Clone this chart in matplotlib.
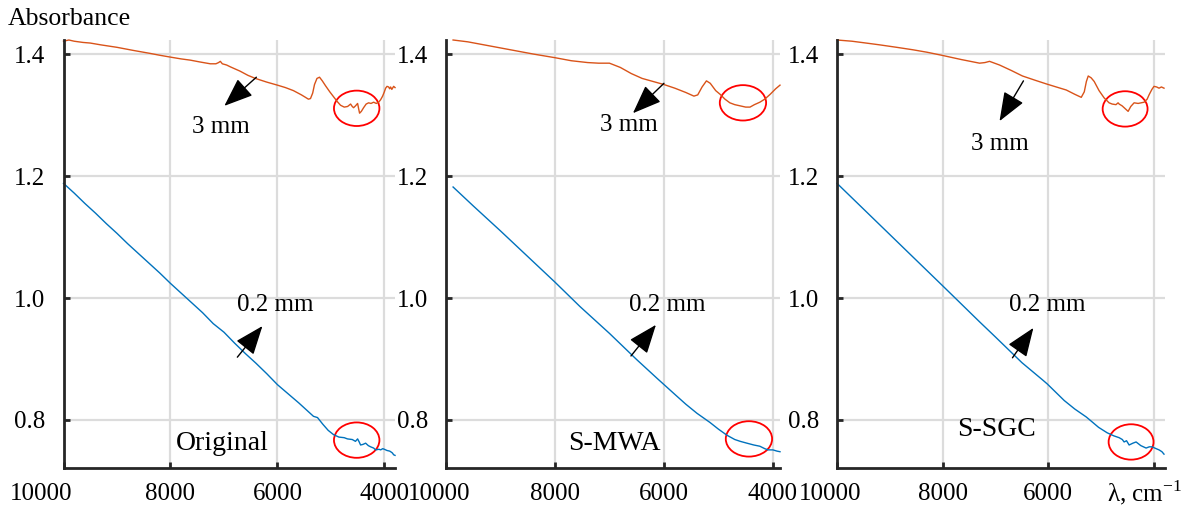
import matplotlib
matplotlib.use("Agg")
import matplotlib.pyplot as plt
from matplotlib.patches import Ellipse
import matplotlib.transforms as mtransforms

plt.rcParams["font.family"] = ["Liberation Serif", "DejaVu Serif"]
plt.rcParams["mathtext.fontset"] = "custom"
plt.rcParams["mathtext.rm"] = "Liberation Serif"

# ---- data ----
# panel 1: Original
orig_top_x = [10000, 9900, 9800, 9635, 9500, 9300, 9000, 8700, 8379, 8200, 8004, 7800, 7630, 7450,
              7255, 7150, 7100, 7067, 7030, 6950, 6880, 6700, 6550, 6411, 6200, 6000, 5850, 5700,
              5550, 5475, 5420, 5381, 5340, 5306, 5260, 5212, 5160, 5100, 5020, 4950, 4880, 4819,
              4750, 4687, 4631, 4600, 4575, 4540, 4500, 4480, 4463, 4430, 4388, 4340, 4294, 4250,
              4200, 4150, 4107, 4070, 4032, 4000, 3976, 3950, 3920, 3900, 3883, 3860, 3826, 3800]
orig_top_y = [1.421, 1.423, 1.421, 1.419, 1.418, 1.415, 1.411, 1.406, 1.401, 1.398, 1.395, 1.392,
              1.390, 1.387, 1.384, 1.384, 1.386, 1.388, 1.384, 1.382, 1.379, 1.372, 1.365, 1.360,
              1.354, 1.349, 1.345, 1.340, 1.333, 1.329, 1.326, 1.327, 1.336, 1.350, 1.360, 1.362,
              1.356, 1.348, 1.338, 1.330, 1.322, 1.316, 1.313, 1.314, 1.318, 1.314, 1.312, 1.315,
              1.319, 1.310, 1.303, 1.306, 1.312, 1.318, 1.320, 1.319, 1.321, 1.319, 1.321, 1.325,
              1.331, 1.338, 1.344, 1.347, 1.346, 1.343, 1.346, 1.342, 1.347, 1.345]
orig_bot_x = [10000, 9800, 9600, 9400, 9200, 9000, 8800, 8600, 8400, 8200, 8000, 7800, 7600, 7400,
              7200, 7000, 6800, 6600, 6400, 6200, 6000, 5800, 5600, 5450, 5325, 5250, 5150, 5050,
              4950, 4850, 4750, 4690, 4600, 4540, 4500, 4470, 4444, 4400, 4350, 4300, 4256, 4200,
              4163, 4100, 4069, 4030, 4000, 3950, 3900, 3882, 3850, 3826, 3800]
orig_bot_y = [1.188, 1.172, 1.155, 1.139, 1.122, 1.106, 1.089, 1.073, 1.057, 1.041, 1.024, 1.008,
              0.992, 0.976, 0.958, 0.944, 0.926, 0.909, 0.893, 0.876, 0.858, 0.843, 0.828, 0.816,
              0.806, 0.804, 0.793, 0.783, 0.776, 0.772, 0.771, 0.769, 0.768, 0.765, 0.769, 0.764,
              0.759, 0.760, 0.762, 0.758, 0.756, 0.754, 0.751, 0.752, 0.751, 0.753, 0.752, 0.750,
              0.749, 0.748, 0.746, 0.743, 0.742]

# panel 2: S-MWA
mwa_top_x = [9870, 9600, 9300, 9000, 8700, 8400, 8000, 7700, 7400, 7200, 7000, 6800, 6600, 6400,
             6200, 6000, 5800, 5600, 5450, 5380, 5300, 5220, 5150, 5050, 4970, 4880, 4790, 4700,
             4600, 4500, 4420, 4340, 4240, 4150, 4050, 3950, 3870]
mwa_top_y = [1.423, 1.420, 1.415, 1.410, 1.405, 1.400, 1.394, 1.389, 1.386, 1.385, 1.385, 1.378,
             1.368, 1.360, 1.355, 1.350, 1.344, 1.337, 1.331, 1.333, 1.346, 1.356, 1.352, 1.340,
             1.334, 1.326, 1.320, 1.317, 1.315, 1.313, 1.313, 1.317, 1.321, 1.326, 1.334, 1.343,
             1.349]
mwa_bot_x = [9870, 9500, 9000, 8500, 8000, 7541, 7000, 6500, 6110, 5800, 5600, 5394, 5156, 5000,
             4843, 4700, 4600, 4477, 4350, 4240, 4150, 4090, 4000, 3926, 3870]
mwa_bot_y = [1.182, 1.151, 1.110, 1.068, 1.026, 0.986, 0.942, 0.899, 0.867, 0.842, 0.826, 0.811,
             0.796, 0.785, 0.775, 0.768, 0.765, 0.762, 0.759, 0.757, 0.753, 0.751, 0.751, 0.749,
             0.748]

# panel 3: S-SGC
sgc_top_x = [10000, 9717, 9450, 9189, 8870, 8566, 8300, 8019, 7650, 7302, 7200, 7113, 7050, 6924,
             6700, 6490, 6250, 6038, 5850, 5660, 5500, 5377, 5320, 5280, 5245, 5190, 5132, 5040,
             4943, 4850, 4792, 4720, 4680, 4660, 4603, 4540, 4490, 4440, 4377, 4300, 4188, 4130,
             4094, 4040, 4000, 3950, 3905, 3860, 3811]
sgc_top_y = [1.423, 1.421, 1.418, 1.415, 1.411, 1.407, 1.403, 1.398, 1.391, 1.385, 1.386, 1.388,
             1.386, 1.382, 1.373, 1.364, 1.357, 1.351, 1.346, 1.341, 1.334, 1.329, 1.338, 1.355,
             1.364, 1.361, 1.355, 1.340, 1.328, 1.320, 1.318, 1.317, 1.320, 1.318, 1.315, 1.310,
             1.306, 1.314, 1.320, 1.319, 1.321, 1.326, 1.333, 1.342, 1.347, 1.346, 1.344, 1.346,
             1.344]
sgc_bot_x = [10000, 9500, 9000, 8500, 8000, 7302, 7000, 6500, 6113, 6019, 5700, 5500, 5283, 5200,
             5050, 4886, 4760, 4660, 4600, 4566, 4520, 4471, 4400, 4339, 4250, 4150, 4090, 4038,
             3960, 3905, 3850, 3811]
sgc_bot_y = [1.188, 1.146, 1.104, 1.062, 1.020, 0.961, 0.936, 0.894, 0.866, 0.859, 0.832, 0.818,
             0.805, 0.799, 0.788, 0.779, 0.774, 0.771, 0.768, 0.764, 0.766, 0.759, 0.762, 0.764,
             0.758, 0.754, 0.756, 0.756, 0.753, 0.751, 0.748, 0.744]

names = ["Original", "S-MWA", "S-SGC"]
name_pos = [(7030, 0.762), (6917, 0.762), (6981, 0.784)]
xright = [3810, 3870, 3792]
# arrow tail, tip, text for "3 mm" and "0.2 mm"
arr3 = [((6393, 1.362), (6992, 1.315), (7048, 1.280)),
        ((6000, 1.352), (6569, 1.303), (6642, 1.284)),
        ((6471, 1.356), (6924, 1.290), (6924, 1.252))]
arr02 = [((6749, 0.903), (6280, 0.954), (6037, 0.989)),
         ((6605, 0.905), (6147, 0.956), (5945, 0.989)),
         ((6679, 0.902), (6283, 0.951), (6019, 0.989))]
circ_top = [(4517, 1.311), (4550, 1.320), (4547, 1.310)]
circ_bot = [(4517, 0.767), (4440, 0.769), (4434, 0.764)]
first_shift = [-0.22, -0.07, -0.07]

tops = [(orig_top_x, orig_top_y), (mwa_top_x, mwa_top_y), (sgc_top_x, sgc_top_y)]
bots = [(orig_bot_x, orig_bot_y), (mwa_bot_x, mwa_bot_y), (sgc_bot_x, sgc_bot_y)]

W, H = 1190, 511
fig = plt.figure(figsize=(W / 100, H / 100), dpi=100)

lefts = [63.5, 446, 837]
widths = [331, 334, 328]
top_px, bot_px = 40, 468

orange = "#D95319"
blue = "#0072BD"
dark = "#262626"

for i in range(3):
    ax = fig.add_axes([lefts[i] / W, 1 - bot_px / H, widths[i] / W, (bot_px - top_px) / H])
    ax.set_xlim(10000, xright[i])
    ax.set_ylim(0.7213, 1.423)
    ax.set_xticks([10000, 8000, 6000, 4000])
    ax.set_yticks([0.8, 1.0, 1.2, 1.4])
    ax.set_yticklabels(["0.8", "1.0", "1.2", "1.4"])
    if i == 2:
        ax.set_xticklabels(["10000", "8000", "6000", ""])
    else:
        ax.set_xticklabels(["10000", "8000", "6000", "4000"])
    ax.grid(True, color="#DCDCDC", linewidth=1.6)
    ax.set_axisbelow(True)
    for s in ["top", "right"]:
        ax.spines[s].set_visible(False)
    for s in ["left", "bottom"]:
        ax.spines[s].set_color(dark)
        ax.spines[s].set_linewidth(2)
    ax.tick_params(axis="both", direction="in", length=4, width=2, color=dark,
                   labelsize=18, labelcolor="black")
    ax.tick_params(axis="y", pad=13)
    ax.tick_params(axis="x", pad=11)
    # shift first x label to the left like the reference
    lab = ax.get_xticklabels()[0]
    lab.set_transform(lab.get_transform() + mtransforms.ScaledTranslation(first_shift[i], 0, fig.dpi_scale_trans))

    ax.plot(tops[i][0], tops[i][1], color=orange, linewidth=1.0, clip_on=False)
    ax.plot(bots[i][0], bots[i][1], color=blue, linewidth=1.0, clip_on=False)

    for c in [circ_top[i], circ_bot[i]]:
        ax.add_patch(Ellipse(c, width=850, height=0.058, fill=False, edgecolor="red",
                             linewidth=1.3, clip_on=False))

    for tail, tip, txt, label in [(arr3[i][0], arr3[i][1], arr3[i][2], "3 mm"),
                                  (arr02[i][0], arr02[i][1], arr02[i][2], "0.2 mm")]:
        ax.annotate("", xy=tip, xytext=tail,
                    arrowprops=dict(arrowstyle="-|>,head_length=0.9,head_width=0.35",
                                    color="black", lw=1.0, shrinkA=0, shrinkB=0,
                                    mutation_scale=20))
        ax.text(txt[0], txt[1], label, fontsize=18, ha="center", va="center")

    ax.text(name_pos[i][0], name_pos[i][1], names[i], fontsize=20, ha="center", va="center")

    if i == 2:
        ax.annotate(r"λ, cm$^{-1}$", xy=(4000, 0), xycoords=("data", "axes fraction"),
                    xytext=(-9, -25), textcoords="offset pixels", ha="center", va="center",
                    fontsize=18)

fig.text(8 / W, 1 - 19 / H, "Absorbance", fontsize=18.5, ha="left", va="center")

fig.savefig("out.png", dpi=100)
